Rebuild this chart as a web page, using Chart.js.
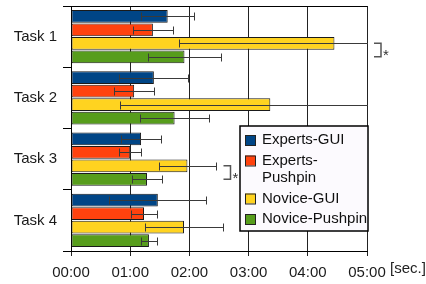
<!DOCTYPE html>
<html>
<head>
<meta charset="utf-8">
<script src="https://cdn.jsdelivr.net/npm/chart.js@4/dist/chart.umd.min.js"></script>
<style>
  html, body { margin: 0; padding: 0; background: #fff; }
  #wrap { width: 426px; height: 284px; }
</style>
</head>
<body>
<div id="wrap"><canvas id="c" width="426" height="284"></canvas></div>
<script>
// categories and series (seconds)
const tasks = ['Task 1', 'Task 2', 'Task 3', 'Task 4'];
const seriesNames = ['Experts-GUI', 'Experts-Pushpin', 'Novice-GUI', 'Novice-Pushpin'];
const expertsGui = [98, 84, 71, 88];
const expertsPushpin = [83, 64, 60, 74];
const noviceGui = [267, 202, 118, 114.5];
const novicePushpin = [115, 105, 77, 79];
// error bar half widths (seconds)
const expertsGuiErr = [27, 35, 20, 49];
const expertsPushpinErr = [20, 20, 11, 13];
const noviceGuiErr = [158, 152, 29, 40];
const novicePushpinErr = [37, 35, 15, 8.5];
// x ticks (seconds) and their labels
const xTickValues = [0, 60, 120, 180, 240, 300];
const xTickLabels = ['00:00', '01:00', '02:00', '03:00', '04:00', '05:00'];
// significant differences: task + the two series compared
const sigTasks = ['Task 1', 'Task 3'];
const sigPair = ['Novice-GUI', 'Novice-Pushpin'];

const colors = ['#004586', '#ff420e', '#ffd320', '#579d1c'];
const values = [expertsGui, expertsPushpin, noviceGui, novicePushpin];
const errors = [expertsGuiErr, expertsPushpinErr, noviceGuiErr, novicePushpinErr];
const FONT = '"Liberation Sans", Arial, sans-serif';

// error bars, significance brackets, legend, unit label
const extras = {
  id: 'extras',
  afterDatasetsDraw(chart) {
    const c = chart.ctx;
    const xs = chart.scales.x;
    const area = chart.chartArea;
    const errEnd = []; // right end of error bars per dataset/task

    c.save();
    c.beginPath();
    c.rect(area.left, area.top - 1, area.right - area.left + 1, area.bottom - area.top + 2);
    c.clip();
    c.strokeStyle = '#3a3a3a';
    c.lineWidth = 1;
    values.forEach((vals, i) => {
      const meta = chart.getDatasetMeta(i);
      errEnd[i] = [];
      vals.forEach((v, j) => {
        const bar = meta.data[j];
        const y = Math.round(bar.y) + 0.5;
        const x1 = Math.round(xs.getPixelForValue(v - errors[i][j])) + 0.5;
        const x2 = Math.round(xs.getPixelForValue(v + errors[i][j])) + 0.5;
        errEnd[i][j] = x2;
        c.beginPath();
        c.moveTo(x1, y); c.lineTo(x2, y);
        c.moveTo(x1, y - 4); c.lineTo(x1, y + 4);
        if (x2 <= area.right) { c.moveTo(x2, y - 4); c.lineTo(x2, y + 4); }
        c.stroke();
      });
    });
    c.restore();

    // top frame line
    c.save();
    c.strokeStyle = '#000';
    c.lineWidth = 1;
    c.beginPath();
    c.moveTo(area.left - 8, Math.round(area.top) + 0.5);
    c.lineTo(area.right + 0.5, Math.round(area.top) + 0.5);
    c.stroke();
    c.restore();

    // brackets with asterisk
    const a = seriesNames.indexOf(sigPair[0]);
    const b = seriesNames.indexOf(sigPair[1]);
    c.save();
    c.strokeStyle = '#555';
    c.lineWidth = 1.5;
    c.fillStyle = '#333';
    c.font = '15px ' + FONT;
    sigTasks.forEach(t => {
      const j = tasks.indexOf(t);
      const ya = chart.getDatasetMeta(a).data[j].y;
      const yb = chart.getDatasetMeta(b).data[j].y;
      const xr = Math.min(Math.max(errEnd[a][j], errEnd[b][j]), area.right) + 7;
      c.beginPath();
      c.moveTo(xr, ya); c.lineTo(xr + 7, ya);
      c.lineTo(xr + 7, yb); c.lineTo(xr, yb);
      c.stroke();
      c.textAlign = 'left';
      c.textBaseline = 'alphabetic';
      c.fillText('*', xr + 9, (ya + yb) / 2 + 10);
    });
    c.restore();

    // legend box
    const lx = area.left + 169, ly = area.top + 120;
    const lw = 128, lh = 105;
    c.save();
    c.fillStyle = '#fcfafe';
    c.fillRect(lx, ly, lw, lh);
    c.strokeStyle = '#000';
    c.lineWidth = 1.5;
    c.strokeRect(lx, ly, lw, lh);
    c.font = '15px ' + FONT;
    c.textBaseline = 'middle';
    c.textAlign = 'left';
    let y = ly + 14;
    const tx = lx + 22;
    seriesNames.forEach((name, i) => {
      c.fillStyle = colors[i];
      c.fillRect(lx + 5, y - 5, 10, 10);
      c.strokeStyle = '#222';
      c.lineWidth = 1;
      c.strokeRect(lx + 5.5, y - 4.5, 10, 10);
      c.fillStyle = '#111';
      let lines = [name];
      if (c.measureText(name).width > lx + lw - tx) {
        const k = name.indexOf('-') + 1;
        lines = [name.slice(0, k), name.slice(k)];
      }
      lines.forEach((ln, k) => c.fillText(ln, tx, y + k * 17.5));
      y += 20.5 + (lines.length - 1) * 17.5;
    });
    c.restore();

    // unit label
    c.save();
    c.font = '15px ' + FONT;
    c.fillStyle = '#222';
    c.textBaseline = 'middle';
    c.textAlign = 'left';
    c.fillText('[sec.]', area.right + 23, area.bottom + 18);
    c.restore();
  }
};

new Chart(document.getElementById('c'), {
  type: 'bar',
  data: {
    labels: tasks,
    datasets: seriesNames.map((name, i) => ({
      label: name,
      data: values[i],
      backgroundColor: colors[i],
      borderColor: '#1a1a1a',
      borderWidth: 1,
      borderSkipped: false,
      categoryPercentage: 0.88,
      barPercentage: 0.95
    }))
  },
  options: {
    indexAxis: 'y',
    responsive: false,
    animation: false,
    layout: { padding: { top: 6, right: 59, left: 0, bottom: 0 } },
    plugins: { legend: { display: false }, tooltip: { enabled: false } },
    scales: {
      x: {
        min: 0,
        max: 300,
        afterFit(s) { s.height = 33; },
        afterBuildTicks(s) { s.ticks = xTickValues.map(v => ({ value: v })); },
        ticks: {
          padding: 8,
          color: '#1a1a1a',
          font: { family: FONT, size: 15 },
          maxRotation: 0,
          callback: v => xTickLabels[xTickValues.indexOf(v)]
        },
        grid: { color: '#222', lineWidth: 1, tickLength: 5 },
        border: { color: '#000', width: 1 }
      },
      y: {
        afterFit(s) { s.width = 71; s.paddingTop = 0; s.paddingBottom = 0; },
        ticks: {
          padding: 6,
          color: '#1a1a1a',
          font: { family: FONT, size: 15 }
        },
        grid: { drawOnChartArea: false, offset: true, tickLength: 8, color: '#000' },
        border: { color: '#000', width: 1 }
      }
    }
  },
  plugins: [extras]
});
</script>
</body>
</html>
